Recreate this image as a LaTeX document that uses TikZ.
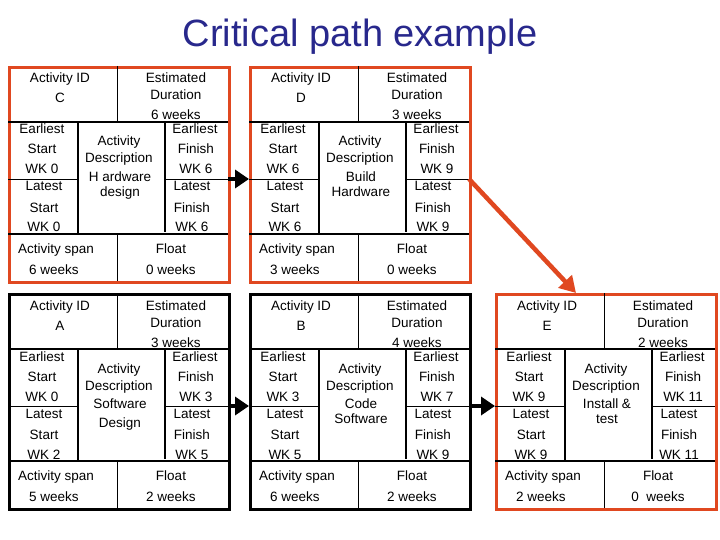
\documentclass[tikz,border=0pt]{standalone}
\usepackage{fontspec}
\setmainfont{Liberation Sans}
\usetikzlibrary{arrows.meta}
\definecolor{redb}{RGB}{224,72,32}
\definecolor{titleblue}{RGB}{40,40,140}
\tikzset{
  frame/.style={draw=#1,line width=3pt,minimum width=220pt,minimum height=215pt,anchor=north west,inner sep=0pt},
  thickl/.style={line width=1.8pt},
  thinl/.style={line width=0.9pt},
  t/.style={font=\fontsize{13.5}{16.5}\selectfont,inner sep=0pt,anchor=base},
  blk/.style={line width=4.5pt,-{Triangle[length=14pt,width=18pt]}},
  redarr/.style={draw=redb,line width=4.5pt,-{Triangle[length=16pt,width=18pt]}}
}
\newcommand\boxtop[7]{%
  \node[frame=#6] (#7) at (#1,#2) {};
  \coordinate (#7-l) at (#1,#2+113);
  \coordinate (#7-r) at (#1+220,#2+113);
  \draw[thinl] (#1+109,#2) -- (#1+109,#2+56);
  \draw[thickl] (#1,#2+56) -- (#1+220,#2+56);
  \draw[thickl] (#1,#2+168) -- (#1+220,#2+168);
  \draw[thickl] (#1+70,#2+56) -- (#1+70,#2+168);
  \draw[thickl] (#1+157,#2+56) -- (#1+157,#2+166);
  \draw[thinl] (#1,#2+113) -- (#1+70,#2+113);
  \draw[thinl] (#1+157,#2+113) -- (#1+220,#2+113);
  \draw[thinl] (#1+109,#2+168) -- (#1+109,#2+215);
  \node[t] (#7-a1) at (#1+52,#2+17) {Activity ID};
  \node[t] (#7-a2) at (#1+52,#2+37) {#3};
  \node[t] (#7-d1) at (#1+168,#2+17) {Estimated};
  \node[t] (#7-d2) at (#1+168,#2+34) {Duration};
  \node[t] (#7-d3) at (#1+168,#2+54) {#4 weeks};
  \node[t] (#7-m1) at (#1+111,#2+80) {Activity};
  \node[t] (#7-m2) at (#1+111,#2+97) {Description};
  \node[t,align=center,anchor=north] (#7-m3) at (#1+112,#2+106) {#5};
}
\newcommand\boxsides[8]{%
  \node[t] at (#1+34,#2+68) {Earliest};
  \node[t] at (#1+34,#2+88) {Start};
  \node[t] at (#1+34,#2+108) {WK #3};
  \node[t] at (#1+36,#2+125) {Latest};
  \node[t] at (#1+36,#2+146) {Start};
  \node[t] at (#1+36,#2+166) {WK #4};
  \node[t] at (#1+187,#2+68) {Earliest};
  \node[t] at (#1+188,#2+88) {Finish};
  \node[t] at (#1+188,#2+108) {WK #5};
  \node[t] at (#1+184,#2+125) {Latest};
  \node[t] at (#1+184,#2+146) {Finish};
  \node[t] at (#1+184,#2+166) {WK #6};
  \node[t] at (#1+48,#2+187) {Activity span};
  \node[t] at (#1+46,#2+208) {#7};
  \node[t] at (#1+163,#2+187) {Float};
  \node[t] at (#1+163,#2+208) {#8};
}
\begin{document}
\begin{tikzpicture}[x=1pt,y=-1pt]
\useasboundingbox[fill=white] (0,0) rectangle (720,540);
\node[font=\fontsize{38}{40}\selectfont,text=titleblue,anchor=base] (title) at (360,47) {Critical path example};
\boxtop{8}{66}{C}{6}{H ardware\\[-2pt]design}{redb}{C}
\boxsides{8}{66}{0}{0}{6}{6}{6 weeks}{0 weeks}
\boxtop{249}{66}{D}{3}{Build\\[-2pt]Hardware}{redb}{D}
\boxsides{249}{66}{6}{6}{9}{9}{3 weeks}{0 weeks}
\boxtop{8}{293}{A}{3}{Software\\[2pt]Design}{black}{A}
\boxsides{8}{293}{0}{2}{3}{5}{5 weeks}{2 weeks}
\boxtop{249}{293}{B}{4}{Code\\[-2pt]Software}{black}{B}
\boxsides{249}{293}{3}{5}{7}{9}{6 weeks}{2 weeks}
\boxtop{495}{293}{E}{2}{Install \&\\[-2pt]test}{redb}{E}
\boxsides{495}{293}{9}{9}{11}{11}{2 weeks}{0\ \ weeks}
\draw[blk] (C-r) -- (D-l);
\draw[blk] (A-r) -- (B-l);
\draw[blk] (B-r) -- (E-l);
\coordinate (Etop) at (576,293);
\draw[redarr] (D-r) -- (Etop);
\end{tikzpicture}
\end{document}
